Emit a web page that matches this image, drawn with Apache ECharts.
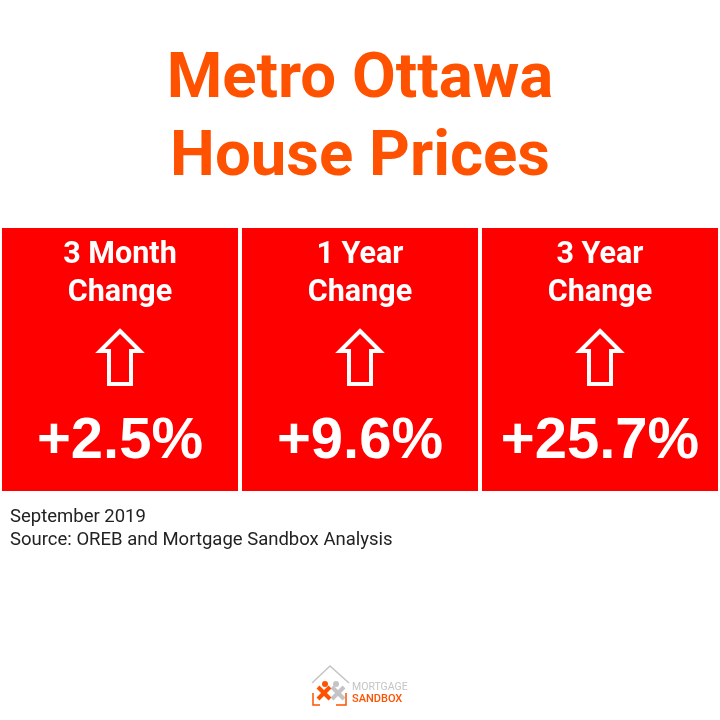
<!DOCTYPE html>
<html>
<head>
<meta charset="utf-8">
<style>html,body{margin:0;padding:0;background:#fff}#main{width:720px;height:720px}</style>
<script src="https://cdn.jsdelivr.net/npm/echarts@6/dist/echarts.min.js"></script>
</head>
<body>
<div id="main"></div>
<script>
var categories = ['3 Month', '1 Year', '3 Year'];
var changes = [2.5, 9.6, 25.7];
var titleLines = ['Metro Ottawa', 'House Prices'];
var notes = ['September 2019', 'Source: OREB and Mortgage Sandbox Analysis'];

var headFont = 'Roboto, sans-serif';
var orange = '#ff5200';
var grey = '#c4c4c4';

var myChart = echarts.init(document.getElementById('main'));

// panel with header, arrow and value
function drawPanel(params, api) {
  var i = api.value(0);
  var box = params.coordSys;
  var band = api.size([1, 0])[0];
  var cx = api.coord([i, 0])[0];
  var ty = box.y;
  return {
    type: 'group',
    children: [
      { type: 'rect', shape: { x: cx - band / 2 + 2, y: ty, width: band - 4, height: box.height }, style: { fill: '#ff0000' } },
      { type: 'text', style: { text: categories[i], x: cx, y: ty + 27, fill: '#fff', fontFamily: headFont, fontWeight: 700, fontSize: 30.5, textAlign: 'center', textVerticalAlign: 'middle' } },
      { type: 'text', style: { text: 'Change', x: cx, y: ty + 65, fill: '#fff', fontFamily: headFont, fontWeight: 700, fontSize: 30.5, textAlign: 'center', textVerticalAlign: 'middle' } },
      { type: 'polygon', shape: { points: [[cx, ty + 103], [cx + 20, ty + 123], [cx + 11, ty + 123], [cx + 11, ty + 156], [cx - 11, ty + 156], [cx - 11, ty + 123], [cx - 20, ty + 123]] }, style: { fill: 'none', stroke: '#fff', lineWidth: 4 } },
      { type: 'text', style: { text: '+' + api.value(1).toFixed(1) + '%', x: cx, y: ty + 214, fill: '#fff', fontFamily: 'Liberation Sans, Arial, sans-serif', fontWeight: 'bold', fontSize: 58, textAlign: 'center', textVerticalAlign: 'middle' } }
    ]
  };
}

var option = {
  backgroundColor: '#fff',
  animation: false,
  title: [
    { text: titleLines[0], left: 'center', top: 44, textStyle: { color: orange, fontFamily: headFont, fontWeight: 700, fontSize: 63.5 } },
    { text: titleLines[1], left: 'center', top: 122, textStyle: { color: orange, fontFamily: headFont, fontWeight: 700, fontSize: 63.5 } },
    { text: notes[0], left: 5, top: 503, textStyle: { color: '#222', fontFamily: headFont, fontWeight: 400, fontSize: 18.5 } },
    { text: notes[1], left: 5, top: 526, textStyle: { color: '#222', fontFamily: headFont, fontWeight: 400, fontSize: 18.5 } }
  ],
  grid: { left: 0, right: 0, top: 228, height: 263 },
  xAxis: { type: 'category', data: categories, show: false },
  yAxis: { type: 'value', min: 0, max: 30, show: false },
  series: [{
    type: 'custom',
    renderItem: drawPanel,
    encode: { x: 0, y: 1 },
    data: changes.map(function (v, i) { return [i, v]; })
  }],
  // logo
  graphic: [
    { type: 'polyline', shape: { points: [[312, 683], [330, 666], [349, 683]] }, style: { fill: 'none', stroke: grey, lineWidth: 1.5 } },
    { type: 'polyline', shape: { points: [[313, 693], [313, 705], [320, 705]] }, style: { fill: 'none', stroke: orange, lineWidth: 1.5 } },
    { type: 'polyline', shape: { points: [[336, 705], [346, 705], [346, 693]] }, style: { fill: 'none', stroke: orange, lineWidth: 1.5 } },
    { type: 'line', shape: { x1: 332, y1: 687, x2: 344, y2: 699 }, style: { stroke: grey, lineWidth: 4 } },
    { type: 'line', shape: { x1: 344, y1: 687, x2: 332, y2: 699 }, style: { stroke: grey, lineWidth: 4 } },
    { type: 'circle', shape: { cx: 336, cy: 684, r: 3 }, style: { fill: grey } },
    { type: 'line', shape: { x1: 318, y1: 687, x2: 330, y2: 699 }, style: { stroke: orange, lineWidth: 4 } },
    { type: 'line', shape: { x1: 330, y1: 687, x2: 318, y2: 699 }, style: { stroke: orange, lineWidth: 4 } },
    { type: 'circle', shape: { cx: 325, cy: 684, r: 3 }, style: { fill: orange } },
    { type: 'text', style: { text: 'MORTGAGE', x: 352, y: 682, fill: grey, fontFamily: headFont, fontSize: 10.5 } },
    { type: 'text', style: { text: 'SANDBOX', x: 352, y: 694, fill: orange, fontFamily: headFont, fontWeight: 500, fontSize: 11 } }
  ]
};

myChart.setOption(option);
</script>
</body>
</html>
